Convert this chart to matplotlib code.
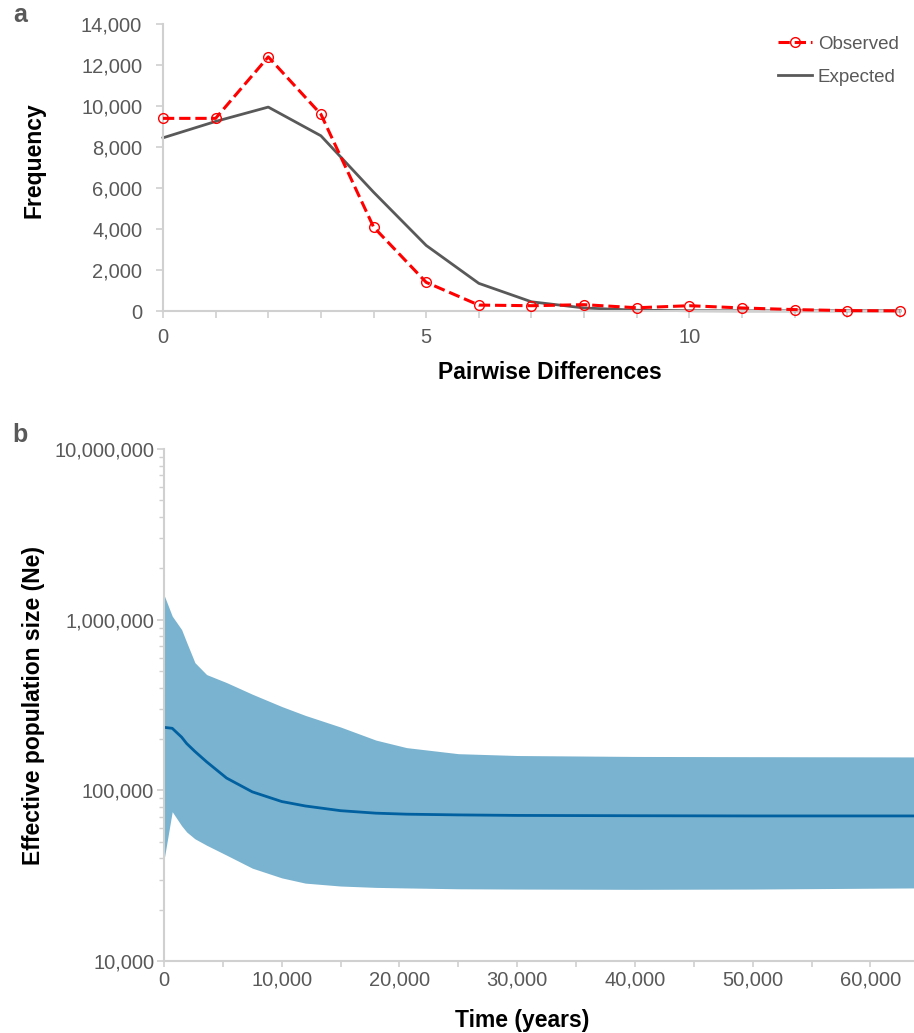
import numpy as np
import matplotlib
matplotlib.use("Agg")
import matplotlib.pyplot as plt
from matplotlib.ticker import FuncFormatter, MultipleLocator, LogLocator, NullFormatter

plt.rcParams['font.family'] = ['Liberation Sans', 'DejaVu Sans']

# panel a: mismatch distribution
pairwise_diff = [0, 1, 2, 3, 4, 5, 6, 7, 8, 9, 10, 11, 12, 13, 14]
observed = [9400, 9400, 12400, 9600, 4100, 1400, 290, 260, 310, 160, 260, 150, 70, 20, 10]
expected = [8450, 9250, 9950, 8550, 5800, 3200, 1350, 450, 150, 40, 15, 10, 10, 10, 10]

# panel b: Bayesian skyline (median and 95% HPD)
time_years = [0, 700, 1500, 1930, 2630, 3620, 5320, 7500, 10000, 12000, 15000,
              18000, 20600, 25000, 30000, 40000, 50000, 63700]
ne_median = [234000, 231000, 205000, 188000, 169000, 147000, 118000, 98000, 86000,
             81000, 76000, 73500, 72500, 71800, 71300, 71000, 70800, 70800]
ne_upper = [1400000, 1050000, 875000, 736000, 560000, 477000, 428000, 366000, 310000,
            275000, 235000, 197000, 178000, 164000, 160000, 158000, 157500, 157000]
ne_lower = [39000, 75000, 62000, 57000, 52000, 47700, 41700, 35000, 30700, 28600,
            27500, 27000, 26800, 26500, 26400, 26300, 26400, 26800]

SPINE = '#d0d0d0'
TICK_TXT = '#595959'

comma = FuncFormatter(lambda v, p: f"{v:,.0f}")

fig = plt.figure(figsize=(9.14, 10.33), dpi=100)

# ---- panel a ----
ax1 = fig.add_axes([0.1783, 0.6989, 0.8064, 0.2778])
ax1.plot(pairwise_diff, observed, color='#ff0000', ls='--', lw=2.2, marker='o',
         markersize=7, markerfacecolor='none', markeredgecolor='#ff0000',
         markeredgewidth=1, label='Observed', zorder=3)
ax1.plot(pairwise_diff, expected, color='#595959', lw=2.0, label='Expected', zorder=2)
ax1.set_xlim(0, 14)
ax1.set_ylim(0, 14000)
ax1.yaxis.set_major_locator(MultipleLocator(2000))
ax1.yaxis.set_major_formatter(comma)
ax1.xaxis.set_major_locator(MultipleLocator(5))
ax1.xaxis.set_minor_locator(MultipleLocator(1))
for s in ['top', 'right']:
    ax1.spines[s].set_visible(False)
for s in ['left', 'bottom']:
    ax1.spines[s].set_color(SPINE)
    ax1.spines[s].set_linewidth(1.5)
ax1.tick_params(axis='y', which='major', length=5, width=1.2, color=SPINE,
                labelsize=14.5, labelcolor=TICK_TXT, pad=10)
ax1.tick_params(axis='x', which='both', length=5, width=1.2, color=SPINE,
                labelsize=14.5, labelcolor=TICK_TXT, pad=7)
ax1.set_ylabel('Frequency', fontsize=16.5, fontweight='bold')
ax1.yaxis.set_label_coords(-0.16, 0.526)
ax1.set_xlabel('Pairwise Differences', fontsize=16.5, fontweight='bold', va='top')
ax1.xaxis.set_label_coords(0.525, -0.175)
for ln in ax1.lines:
    ln.set_clip_on(False)
leg = ax1.legend(loc='upper right', bbox_to_anchor=(0.998, 0.96), frameon=False,
                 fontsize=13.5, handlelength=1.8, handletextpad=0.3, labelspacing=0.85,
                 borderpad=0, borderaxespad=0)
for t in leg.get_texts():
    t.set_color(TICK_TXT)

# ---- panel b ----
ax2 = fig.add_axes([0.1794, 0.0697, 0.8206, 0.4956])
ax2.fill_between(time_years, ne_lower, ne_upper, color='#7ab3cf', lw=0)
ax2.plot(time_years, ne_median, color='#0060a0', lw=2.0)
ax2.set_yscale('log')
ax2.set_ylim(10000, 10000000)
ax2.set_xlim(0, 63700)
ax2.yaxis.set_major_locator(LogLocator(base=10, numticks=10))
ax2.yaxis.set_minor_locator(LogLocator(base=10, subs=np.arange(2, 10), numticks=10))
ax2.yaxis.set_major_formatter(comma)
ax2.yaxis.set_minor_formatter(NullFormatter())
ax2.xaxis.set_major_locator(MultipleLocator(10000))
ax2.xaxis.set_minor_locator(MultipleLocator(5000))
ax2.xaxis.set_major_formatter(comma)
for s in ['top', 'right']:
    ax2.spines[s].set_visible(False)
for s in ['left', 'bottom']:
    ax2.spines[s].set_color(SPINE)
    ax2.spines[s].set_linewidth(1.5)
ax2.tick_params(axis='y', which='major', length=5, width=1.2, color=SPINE,
                labelsize=14.5, labelcolor=TICK_TXT, pad=2)
ax2.tick_params(axis='y', which='minor', length=3.5, width=1.0, color=SPINE)
ax2.tick_params(axis='x', which='both', length=4, width=1.2, color=SPINE,
                labelsize=14.5, labelcolor=TICK_TXT, pad=3)
ax2.set_ylabel('Effective population size (Ne)', fontsize=16.5, fontweight='bold')
ax2.yaxis.set_label_coords(-0.159, 0.5)
ax2.set_xlabel('Time (years)', fontsize=16.5, fontweight='bold', va='top')
ax2.xaxis.set_label_coords(0.477, -0.094)

fig.text(0.014, 0.985, 'a', fontsize=18, fontweight='bold', color=TICK_TXT, va='center')
fig.text(0.014, 0.579, 'b', fontsize=18, fontweight='bold', color=TICK_TXT, va='center')

fig.savefig('out.png', dpi=100)
